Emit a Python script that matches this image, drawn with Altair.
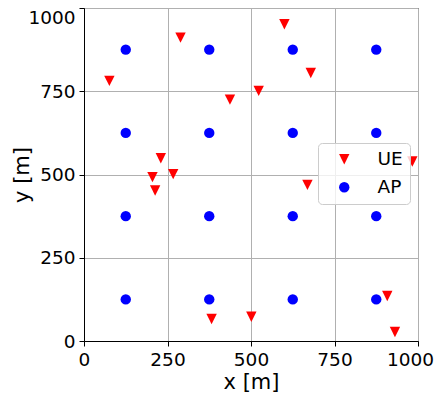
import altair as alt
import pandas as pd

# UE positions (red downward triangles)
ue_x = [76, 289, 600, 679, 437, 523, 230, 205, 213, 267, 669, 983, 382, 501, 908, 931]
ue_y = [781, 911, 951, 805, 725, 751, 549, 492, 452, 501, 469, 539, 66, 73, 135, 27]

# AP positions (blue circles)
ap_x = [125, 375, 625, 875, 125, 375, 625, 875, 125, 375, 625, 875, 125, 375, 625, 875]
ap_y = [125, 125, 125, 125, 375, 375, 375, 375, 625, 625, 625, 625, 875, 875, 875, 875]

tick_values = [0, 250, 500, 750, 1000]
categories = ["UE", "AP"]
colors = ["#ff0000", "#0000ff"]
shapes = ["M0,1L-1,-1L1,-1Z", "circle"]

df = pd.DataFrame({
    "x": ue_x + ap_x,
    "y": ue_y + ap_y,
    "type": ["UE"] * len(ue_x) + ["AP"] * len(ap_x),
})

FONT = "DejaVu Sans"

chart = alt.Chart(df).mark_point(
    filled=True, opacity=1, size=108, strokeWidth=0, clip=True
).encode(
    x=alt.X("x:Q",
            scale=alt.Scale(domain=[0, 1000], nice=False, zero=False),
            axis=alt.Axis(values=tick_values, format="d", title="x [m]", titleY=47,
                          titleBaseline="alphabetic", labelFlush=False,
                          labelOverlap=False,
                          labelOffset=alt.condition("datum.value == 1000",
                                                    alt.value(-8), alt.value(0)))),
    y=alt.Y("y:Q",
            scale=alt.Scale(domain=[0, 1000], nice=False, zero=False),
            axis=alt.Axis(values=tick_values, format="d", title="y [m]", titleX=-56,
                          titleBaseline="alphabetic", labelFlush=False,
                          labelOverlap=False,
                          labelBaseline=alt.condition("datum.value == 1000",
                                                      alt.value("top"),
                                                      alt.value("middle")))),
    color=alt.Color("type:N", scale=alt.Scale(domain=categories, range=colors),
                    legend=alt.Legend(title=None)),
    shape=alt.Shape("type:N", scale=alt.Scale(domain=categories, range=shapes),
                    legend=alt.Legend(title=None)),
).properties(
    width=334,
    height=333,
    autosize=alt.AutoSizeParams(type="none"),
    padding={"left": 76, "top": 0, "right": 16, "bottom": 53},
).configure_view(
    stroke="black", strokeWidth=1
).configure_axis(
    labelFont=FONT, labelFontSize=18.5, labelColor="black", labelPadding=4,
    tickColor="black", tickSize=5, tickWidth=1,
    domainColor="black", domainWidth=1,
    gridColor="#b0b0b0", gridWidth=1,
    titleFont=FONT, titleFontSize=21, titleFontWeight="normal", titleColor="black",
).configure_legend(
    orient="none", legendX=234, legendY=135,
    fillColor="rgba(255,255,255,0.8)", strokeColor="#cccccc", cornerRadius=4,
    padding=7, symbolOffset=10, labelOffset=24, rowPadding=9,
    symbolSize=108, symbolStrokeWidth=0,
    labelFont=FONT, labelFontSize=18.5, labelColor="black", labelLimit=200,
)

chart.save("out.html", embed_options={"renderer": "svg", "actions": False})
